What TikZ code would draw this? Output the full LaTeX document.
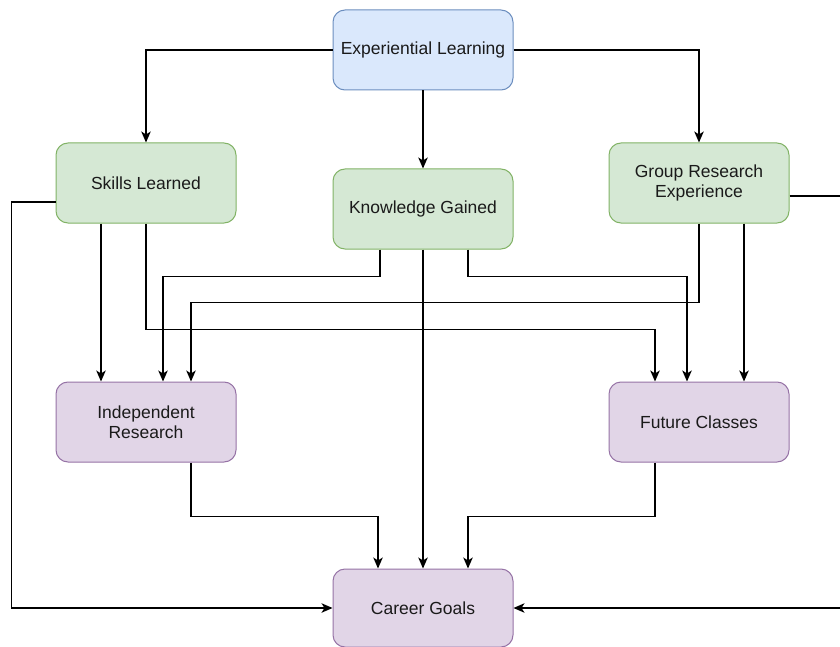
\documentclass[tikz,border=0pt]{standalone}
\usepackage{fontspec}
\setmainfont{Liberation Sans}
\usetikzlibrary{arrows.meta}
\definecolor{bfill}{HTML}{DAE8FC}\definecolor{bdraw}{HTML}{6C8EBF}
\definecolor{gfill}{HTML}{D5E8D4}\definecolor{gdraw}{HTML}{82B366}
\definecolor{pfill}{HTML}{E1D5E7}\definecolor{pdraw}{HTML}{9673A6}
\definecolor{txt}{HTML}{1A1A1A}
\begin{document}
\begin{tikzpicture}[x=1pt,y=-1pt,
  box/.style={rectangle,rounded corners=12pt,minimum width=180pt,minimum height=80pt,
    inner sep=2pt,line width=1pt,align=center,text=txt,
    font=\fontsize{17.5}{20}\selectfont},
  bluebox/.style={box,fill=bfill,draw=bdraw},
  greenbox/.style={box,fill=gfill,draw=gdraw},
  purplebox/.style={box,fill=pfill,draw=pdraw},
  arr/.style={line width=1.3pt,draw=black,-{Stealth[length=11pt,width=9.5pt,inset=3pt]}}]
\clip (0,0) rectangle (840,647);
\fill[white] (0,0) rectangle (840,647);
\node[bluebox] (exp) at (423,50) {Experiential Learning};
\node[greenbox] (skills) at (146,183) {Skills Learned};
\node[greenbox] (know) at (423,209) {Knowledge Gained};
\node[greenbox] (group) at (699,183) {Group Research\\Experience};
\node[purplebox] (indep) at (146,422) {Independent\\Research};
\node[purplebox] (future) at (699,422) {Future Classes};
\node[purplebox,minimum height=78pt] (career) at (423,608) {Career Goals};

\draw[arr] (exp.west) -| (skills.north);
\draw[arr] (exp.east) -| (group.north);
\draw[arr] (exp) -- (know);

\draw[arr] ([xshift=-45pt]skills.south) -- ([xshift=-45pt]indep.north);
\draw[arr] (skills.south) -- ++(0,106) -| ([xshift=-44pt]future.north);
\draw[arr] ([yshift=-19pt]skills.west) -- ++(-44,0) |- (career.west);

\draw[arr] ([xshift=-43pt]know.south) -- ++(0,27) -| ([xshift=17pt]indep.north);
\draw[arr] ([xshift=45pt]know.south) -- ++(0,27) -| ([xshift=-12pt]future.north);
\draw[arr] (know) -- (career);

\draw[arr] (group.south) -- ++(0,79) -| ([xshift=45pt]indep.north);
\draw[arr] ([xshift=45pt]group.south) -- ([xshift=45pt]future.north);
\draw[arr] ([yshift=-13pt]group.east) -- ++(60,0) |- (career.east);

\draw[arr] ([xshift=45pt]indep.south) -- ++(0,54) -| ([xshift=-45pt]career.north);
\draw[arr] ([xshift=-44pt]future.south) -- ++(0,54) -| ([xshift=45pt]career.north);
\end{tikzpicture}
\end{document}
